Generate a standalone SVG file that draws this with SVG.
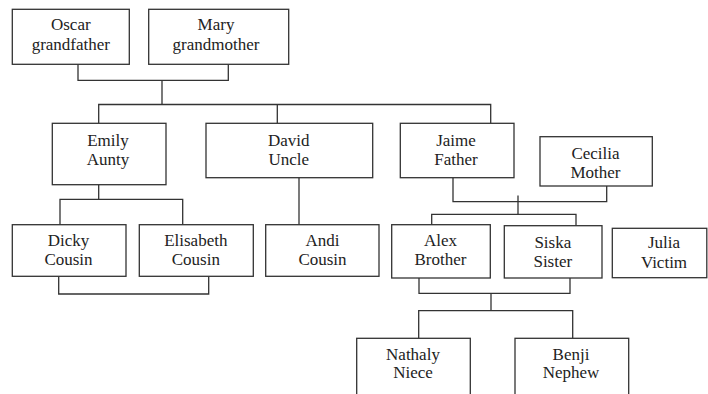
<svg xmlns="http://www.w3.org/2000/svg" width="708" height="394" viewBox="0 0 708 394">
<style>
rect{fill:#fff;stroke:#333;stroke-width:1.3}
.c path{fill:none;stroke:#333;stroke-width:1.3}
</style>
<rect x="0" y="0" width="708" height="394" style="stroke:none"/>
<g class="c" id="connectors">
<path d="M78,64.3V80.3H228.3V64.3M162,80.3V104.5"/>
<path d="M98.7,123.3V104.5H490.7V123.3M277.3,104.5V123.3"/>
<path d="M98.7,184.7V199.3M60,224.7V199.3H182.7V224.7"/>
<path d="M299,177.7V224.7"/>
<path d="M58.7,276.3V294H208.7V276.3"/>
<path d="M453,177.7V201.7H606.7V186M518,195.5V214.3"/>
<path d="M431.7,224.7V214.3H576V225.7"/>
<path d="M419,278V293.3H570V278M491,293.3V310.7"/>
<path d="M418.7,338.3V310.7H572.7V338.3"/>
</g>
<g font-family="Liberation Serif, DejaVu Serif, serif" font-size="17" fill="#222" text-anchor="middle">
<g id="oscar"><rect x="12.3" y="9.3" width="117" height="55"/><text x="70.8" y="29.5">Oscar</text><text x="70.8" y="49.5">grandfather</text></g>
<g id="mary"><rect x="148.7" y="9.3" width="140" height="55"/><text x="216" y="29.5">Mary</text><text x="216" y="49.5">grandmother</text></g>
<g id="emily"><rect x="52.3" y="123.3" width="113.7" height="61.4"/><text x="108" y="145.7">Emily</text><text x="108" y="165">Aunty</text></g>
<g id="david"><rect x="206" y="123.3" width="166.7" height="54.4"/><text x="288.7" y="145.7">David</text><text x="288.7" y="165">Uncle</text></g>
<g id="jaime"><rect x="400.3" y="123.3" width="113.7" height="54.4"/><text x="456" y="145.7">Jaime</text><text x="456" y="165">Father</text></g>
<g id="cecilia"><rect x="540" y="136.7" width="112.3" height="49.3"/><text x="595.5" y="158.7">Cecilia</text><text x="595.5" y="178.3">Mother</text></g>
<g id="dicky"><rect x="12.3" y="224.7" width="113.7" height="51.6"/><text x="68.5" y="245.7">Dicky</text><text x="68.5" y="265.3">Cousin</text></g>
<g id="elisabeth"><rect x="139.3" y="224.7" width="114" height="51.6"/><text x="195.8" y="245.7">Elisabeth</text><text x="195.8" y="265.3">Cousin</text></g>
<g id="andi"><rect x="265.7" y="224.7" width="113.3" height="51.6"/><text x="322.5" y="245.7">Andi</text><text x="322.5" y="265.3">Cousin</text></g>
<g id="alex"><rect x="391.7" y="224.7" width="98.6" height="53.3"/><text x="440.5" y="246">Alex</text><text x="440.5" y="265">Brother</text></g>
<g id="siska"><rect x="504.3" y="225.7" width="97.7" height="52.3"/><text x="552.8" y="247.7">Siska</text><text x="552.8" y="267.3">Sister</text></g>
<g id="julia"><rect x="612.3" y="228.3" width="94.5" height="49.4"/><text x="664" y="248.3">Julia</text><text x="664" y="268">Victim</text></g>
<g id="nathaly"><rect x="356.7" y="338.3" width="113.6" height="70"/><text x="413" y="360">Nathaly</text><text x="413" y="378.3">Niece</text></g>
<g id="benji"><rect x="515" y="338.3" width="113.7" height="70"/><text x="571" y="360">Benji</text><text x="571" y="378.3">Nephew</text></g>
</g>
</svg>
